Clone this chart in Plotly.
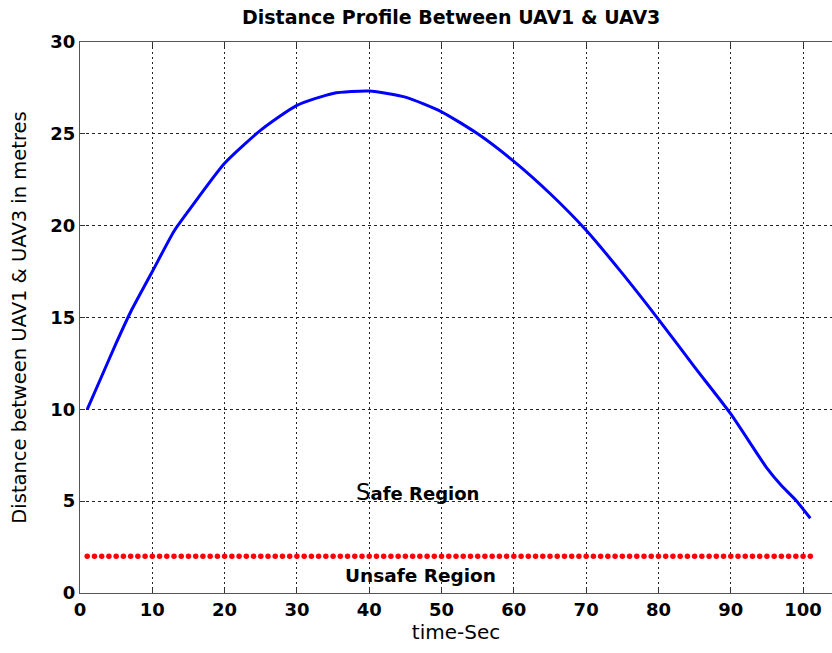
import plotly.graph_objects as go

# Distance profile between UAV1 & UAV3
time_sec = [1, 3, 5, 7, 10, 13, 15, 20, 25, 30, 35, 40, 45, 50, 55, 60, 65, 70, 75, 80, 85, 90, 95, 97, 99, 101]
distance = [10.0, 11.8, 13.6, 15.3, 17.5, 19.7, 20.8, 23.4, 25.2, 26.55, 27.2, 27.33, 27.0, 26.2, 25.0, 23.5,
            21.75, 19.75, 17.4, 14.9, 12.3, 9.75, 6.8, 5.85, 5.05, 4.07]

# Safety threshold markers
threshold_time = list(range(1, 102))
threshold_value = [2] * len(threshold_time)

x_ticks = [0, 10, 20, 30, 40, 50, 60, 70, 80, 90, 100]
y_ticks = [0, 5, 10, 15, 20, 25, 30]

W, H = 832, 653
L, R, T, B = 80, 0, 42, 60
xmax = 104.0

fig = go.Figure()
fig.add_trace(go.Scatter(x=threshold_time, y=threshold_value, mode="markers",
                         marker=dict(color="#ff0000", size=5.5, line=dict(width=0)),
                         showlegend=False, cliponaxis=False))
fig.add_trace(go.Scatter(x=time_sec, y=distance, mode="lines",
                         line=dict(color="#0000ff", width=3, shape="spline", smoothing=0.6),
                         showlegend=False))

font_fam = "DejaVu Sans, sans-serif"
fig.update_layout(
    width=W, height=H,
    margin=dict(l=L, r=R, t=T, b=B),
    paper_bgcolor="white", plot_bgcolor="white",
    font=dict(family=font_fam, color="black"),
    xaxis=dict(range=[0, xmax], tickvals=x_ticks, ticks="inside", ticklen=5, tickcolor="#333",
               showline=True, linecolor="#555", linewidth=1.3, mirror="ticks",
               showgrid=True, gridcolor="#222", gridwidth=1, griddash="2px,3px",
               zeroline=False, tickfont=dict(size=18, family=font_fam, weight="bold"),
               title=dict(text="time-Sec", font=dict(size=20), standoff=5)),
    yaxis=dict(range=[0, 30], tickvals=y_ticks, ticks="inside", ticklen=5, tickcolor="#333",
               showline=True, linecolor="#555", linewidth=1.3, mirror=False,
               showgrid=True, gridcolor="#222", gridwidth=1, griddash="3px,3px",
               zeroline=False, tickfont=dict(size=18, family=font_fam, weight="bold"),
               title=dict(text="Distance between UAV1 & UAV3 in metres", font=dict(size=19.5), standoff=18)),
    annotations=[
        dict(text="<b>Distance Profile Between UAV1 & UAV3</b>", xref="paper", yref="paper",
             x=(451 - L) / (W - L), y=1.0, yshift=25, xanchor="center", yanchor="middle",
             showarrow=False, font=dict(size=19)),
        dict(text="<span style='font-size:23px'>S</span><b>afe Region</b>", x=46.7, y=5.5,
             xref="x", yref="y", showarrow=False, font=dict(size=18)),
        dict(text="<b>Unsafe Region</b>", x=47.1, y=0.94, xref="x", yref="y",
             showarrow=False, font=dict(size=18.5)),
    ],
)

fig.write_html("out.html")
